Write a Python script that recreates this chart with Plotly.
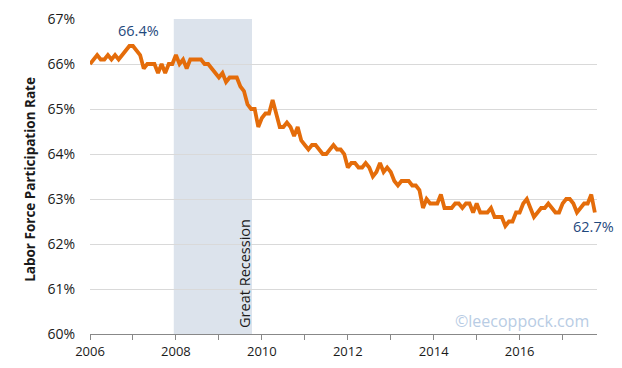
import plotly.graph_objects as go

# Monthly labor force participation rate, Jan 2006 - Oct 2017 (%)
rate_2006 = [66.0, 66.1, 66.2, 66.1, 66.1, 66.2, 66.1, 66.2, 66.1, 66.2, 66.3, 66.4]
rate_2007 = [66.4, 66.3, 66.2, 65.9, 66.0, 66.0, 66.0, 65.8, 66.0, 65.8, 66.0, 66.0]
rate_2008 = [66.2, 66.0, 66.1, 65.9, 66.1, 66.1, 66.1, 66.1, 66.0, 66.0, 65.9, 65.8]
rate_2009 = [65.7, 65.8, 65.6, 65.7, 65.7, 65.7, 65.5, 65.4, 65.1, 65.0, 65.0, 64.6]
rate_2010 = [64.8, 64.9, 64.9, 65.2, 64.9, 64.6, 64.6, 64.7, 64.6, 64.4, 64.6, 64.3]
rate_2011 = [64.2, 64.1, 64.2, 64.2, 64.1, 64.0, 64.0, 64.1, 64.2, 64.1, 64.1, 64.0]
rate_2012 = [63.7, 63.8, 63.8, 63.7, 63.7, 63.8, 63.7, 63.5, 63.6, 63.8, 63.6, 63.7]
rate_2013 = [63.6, 63.4, 63.3, 63.4, 63.4, 63.4, 63.3, 63.3, 63.2, 62.8, 63.0, 62.9]
rate_2014 = [62.9, 62.9, 63.1, 62.8, 62.8, 62.8, 62.9, 62.9, 62.8, 62.9, 62.9, 62.7]
rate_2015 = [62.9, 62.7, 62.7, 62.7, 62.8, 62.6, 62.6, 62.6, 62.4, 62.5, 62.5, 62.7]
rate_2016 = [62.7, 62.9, 63.0, 62.8, 62.6, 62.7, 62.8, 62.8, 62.9, 62.8, 62.7, 62.7]
rate_2017 = [62.9, 63.0, 63.0, 62.9, 62.7, 62.8, 62.9, 62.9, 63.1, 62.7]

rates = (rate_2006 + rate_2007 + rate_2008 + rate_2009 + rate_2010 + rate_2011 +
         rate_2012 + rate_2013 + rate_2014 + rate_2015 + rate_2016 + rate_2017)
start_year = 2006
dates = [start_year + i / 12 for i in range(len(rates))]

year_ticks = [2006, 2008, 2010, 2012, 2014, 2016]
year_labels = ["2006", "2008", "2010", "2012", "2014", "2016"]
y_ticks = [60, 61, 62, 63, 64, 65, 66, 67]
y_labels = ["60%", "61%", "62%", "63%", "64%", "65%", "66%", "67%"]

recession_start = 2007.95
recession_end = 2009.77

peak_value = 66.4
last_value = rates[-1]

fig = go.Figure()
fig.add_trace(go.Scatter(
    x=dates, y=rates, mode="lines",
    line=dict(color="#E46C0A", width=3.8),
    hoverinfo="skip", showlegend=False,
))

fig.add_vrect(x0=recession_start, x1=recession_end, y0=0, y1=1,
              fillcolor="#DCE3EC", line_width=0, layer="below")

font_main = "Open Sans, Liberation Sans, sans-serif"

fig.add_annotation(x=recession_end + 0.08, y=60.1, xanchor="right", yanchor="bottom",
                   text="Great Recession", textangle=-90, showarrow=False,
                   font=dict(family=font_main, size=14.5, color="#1a1a1a"))
fig.add_annotation(x=2007.12, y=peak_value + 0.1, yanchor="bottom", xanchor="center",
                   text=f"{peak_value}%", showarrow=False,
                   font=dict(family=font_main, size=14.5, color="#1F497D"))
fig.add_annotation(x=dates[-1] - 0.03, y=last_value - 0.06, yanchor="top", xanchor="center",
                   text=f"{last_value}%", showarrow=False,
                   font=dict(family=font_main, size=14.5, color="#1F497D"))
fig.add_annotation(x=dates[-1] - 0.1, y=60.28, xanchor="right", yanchor="middle",
                   text="©leecoppock.com", showarrow=False,
                   font=dict(family=font_main, size=16, color="#B8CCE4"))

fig.add_annotation(xref="paper", yref="paper", x=-0.12, y=0.49,
                   xanchor="center", yanchor="middle", textangle=-90,
                   text="<b>Labor Force Participation Rate</b>", showarrow=False,
                   font=dict(family=font_main, size=13.5, color="#1a1a1a"))

# page body adds an 8px offset; margins compensate so the plot area lands at 90..597 x 18..333
fig.update_layout(
    width=622, height=368,
    margin=dict(l=82, r=33, t=11, b=42),
    paper_bgcolor="white", plot_bgcolor="white",
    font=dict(family=font_main, color="#1a1a1a"),
)
fig.update_xaxes(
    range=[2006, 2017.8], tickvals=year_ticks, ticktext=year_labels,
    showgrid=False, showline=True, linecolor="#888888", linewidth=1,
    ticks="outside", ticklen=5, tickcolor="#888888",
    minor=dict(dtick=1, tick0=2006, ticks="outside", ticklen=5, tickcolor="#888888", showgrid=False),
    tickfont=dict(size=13, color="#1a1a1a"), zeroline=False, automargin=False,
)
fig.update_yaxes(
    range=[60, 67], tickvals=y_ticks, ticktext=y_labels,
    showgrid=True, gridcolor="#D9D9D9", gridwidth=1,
    showline=False, zeroline=False, ticks="",
    ticklabelstandoff=14, automargin=False,
    tickfont=dict(size=14, color="#1a1a1a"),
)

fig.write_html("out.html")
